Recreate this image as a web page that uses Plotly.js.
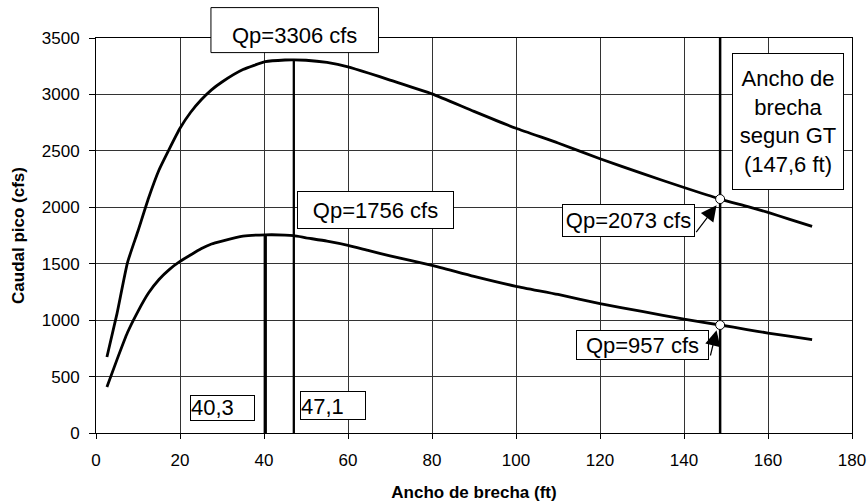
<!DOCTYPE html>
<html>
<head>
<meta charset="utf-8">
<script src="https://cdn.plot.ly/plotly-3.0.1.min.js"></script>
<style>
html,body{margin:0;padding:0;background:#fff;}
#chart{width:868px;height:503px;}
</style>
</head>
<body>
<div id="chart"></div>
<script>
// Breach width (ft)
const anchoBrecha = [2.6, 5, 7.5, 10, 12.5, 15, 17.5, 20, 22.5, 25, 27.5, 30, 35, 40.3, 45, 47.1, 50, 55, 60, 65, 70, 80, 90, 100, 110, 120, 130, 140, 148.6, 155, 160, 165, 170.5];
// Peak discharge, upper curve (cfs)
const caudalSuperior = [673, 1058, 1510, 1790, 2080, 2330, 2520, 2700, 2840, 2950, 3040, 3110, 3220, 3290, 3305, 3306, 3303, 3283, 3245, 3188, 3127, 3005, 2850, 2700, 2570, 2430, 2300, 2175, 2073, 2008, 1955, 1895, 1831];
// Peak discharge, lower curve (cfs)
const caudalInferior = [408, 650, 890, 1078, 1240, 1360, 1450, 1520, 1577, 1632, 1675, 1701, 1745, 1756, 1754, 1748, 1730, 1700, 1663, 1616, 1570, 1486, 1388, 1300, 1228, 1146, 1077, 1008, 957, 917, 886, 858, 827];
// Peaks
const picoX = [47.1, 40.3];
const picoQ = [3306, 1756];
const picoEtiquetas = ["47,1", "40,3"];
// Breach width according to GT
const anchoGT = 148.6;
const caudalGT = [2073, 957];
const textoGT = "Ancho de<br>brecha<br>segun GT<br>(147,6 ft)";
const yMax = 3500;

const fontFam = "Liberation Sans, Arial, sans-serif";

const traces = [
  {x: anchoBrecha, y: caudalSuperior, mode: 'lines', line: {color: '#000', width: 2.8, shape: 'spline', smoothing: 0.5}, hoverinfo: 'skip'},
  {x: anchoBrecha, y: caudalInferior, mode: 'lines', line: {color: '#000', width: 2.8, shape: 'spline', smoothing: 0.5}, hoverinfo: 'skip'},
  {x: [picoX[0], picoX[0]], y: [0, picoQ[0]], mode: 'lines', line: {color: '#000', width: 2.3}, hoverinfo: 'skip'},
  {x: [picoX[1], picoX[1]], y: [0, picoQ[1]], mode: 'lines', line: {color: '#000', width: 3.3}, hoverinfo: 'skip'},
  {x: [anchoGT, anchoGT], y: [0, yMax], mode: 'lines', line: {color: '#000', width: 2.5}, hoverinfo: 'skip'},
  {x: [anchoGT, anchoGT], y: caudalGT, mode: 'markers', marker: {symbol: 'circle', size: 9, color: '#fff', line: {color: '#000', width: 1}}, hoverinfo: 'skip'}
];

// pixel -> data / paper helpers for annotation placement (layout only)
const L = 95.7, R = 852, T = 37.7, B = 432.7;
const px2x = p => (p - L) / (R - L) * 180;
const py2y = p => (B - p) / (B - T) * yMax;
const py2paper = p => (B - p) / (B - T);

const annFont = {family: fontFam, size: 22, color: '#000'};
function box(cx, cy, w, h, text, align, valign) {
  return {x: px2x(cx), y: py2y(cy), xref: 'x', yref: 'y', text: text, showarrow: false,
    xanchor: 'center', yanchor: 'middle', width: w, height: h, align: align || 'center',
    valign: valign || 'middle', bgcolor: '#fff', bordercolor: '#000', borderwidth: 1, borderpad: 0, font: annFont};
}
function arrow(tx, ty, hx, hy) {
  return {x: px2x(hx), y: py2y(hy), ax: px2x(tx), ay: py2y(ty), xref: 'x', yref: 'y', axref: 'x', ayref: 'y',
    text: '', showarrow: true, arrowhead: 2, arrowsize: 2.6, arrowwidth: 1.2, arrowcolor: '#000', standoff: 0, startstandoff: 0};
}

const annotations = [
  {x: px2x(294.3), y: py2paper(35.5), xref: 'x', yref: 'paper', text: 'Qp=' + picoQ[0] + ' cfs', showarrow: false,
   xanchor: 'center', yanchor: 'middle', font: annFont},
  box(375, 209.2, 155, 36, 'Qp=' + picoQ[1] + ' cfs'),
  box(628.3, 220.3, 131, 31, 'Qp=' + caudalGT[0] + ' cfs'),
  box(642.3, 344.7, 131, 28, 'Qp=' + caudalGT[1] + ' cfs'),
  box(222.5, 407.8, 63, 24, picoEtiquetas[1], 'left', 'bottom'),
  box(332.5, 405.2, 64, 27, picoEtiquetas[0], 'left', 'bottom'),
  box(787.8, 121, 110, 135, textoGT),
  arrow(695, 233.3, 716.5, 205),
  arrow(710, 356.7, 716.5, 330)
];

const shapes = [
  {type: 'rect', xref: 'x', yref: 'paper', x0: px2x(210.7), x1: px2x(378.3), y0: py2paper(52.3), y1: py2paper(7.3),
   fillcolor: '#fff', line: {color: '#000', width: 1}, layer: 'above'}
];

const layout = {
  width: 868, height: 503,
  margin: {l: L, r: 868 - R, t: T, b: 503 - B, pad: 0},
  paper_bgcolor: '#fff', plot_bgcolor: '#fff',
  showlegend: false,
  font: {family: fontFam, size: 17, color: '#000'},
  xaxis: {
    range: [0, 180], dtick: 20, tick0: 0,
    showgrid: true, gridcolor: '#333', gridwidth: 1,
    showline: true, linecolor: '#000', linewidth: 1, mirror: true,
    ticks: 'outside', ticklen: 5, tickcolor: '#000', ticklabelstandoff: 7,
    zeroline: false,
    tickfont: {family: fontFam, size: 17, color: '#000'},
    title: {text: 'Ancho de brecha (ft)', font: {family: fontFam, size: 17, color: '#000', weight: 'bold'}, standoff: 16}
  },
  yaxis: {
    range: [0, yMax], dtick: 500, tick0: 0,
    showgrid: true, gridcolor: '#333', gridwidth: 1,
    showline: true, linecolor: '#000', linewidth: 1, mirror: true,
    ticks: 'outside', ticklen: 6, tickcolor: '#000', ticklabelstandoff: 6,
    zeroline: false,
    tickfont: {family: fontFam, size: 17, color: '#000'},
    title: {text: 'Caudal pico (cfs)', font: {family: fontFam, size: 17, color: '#000', weight: 'bold'}, standoff: 12}
  },
  shapes: shapes,
  annotations: annotations
};

Plotly.newPlot('chart', traces, layout, {displayModeBar: false, staticPlot: true});
</script>
</body>
</html>
